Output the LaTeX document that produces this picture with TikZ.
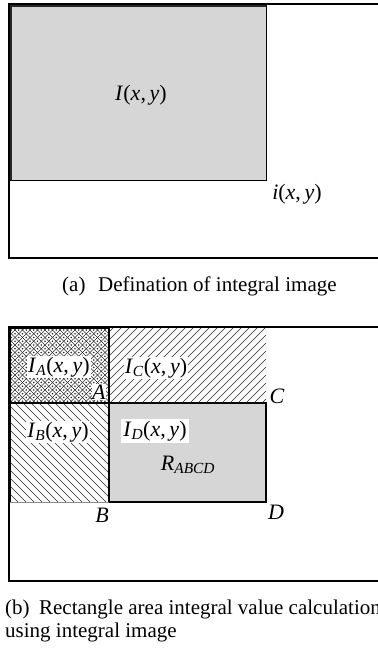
\documentclass[tikz,border=0pt]{standalone}
\usepackage{fontspec}
\setmainfont{Liberation Serif}
\newcommand\mv[1]{\textit{#1}}
\newcommand\mvs[2]{\textit{#1}\textsubscript{\textit{#2}}}
\newcommand\xy{(\mv{x},\,\mv{y})}
\definecolor{panelgray}{HTML}{D6D6D6}
\definecolor{hatchgray}{HTML}{2A2A2A}
\tikzset{
  lbl/.style={font=\fontsize{22bp}{26bp}\selectfont, inner sep=1bp},
  wlbl/.style={lbl, fill=white},
  capt/.style={font=\fontsize{21bp}{25bp}\selectfont, inner sep=0pt, anchor=base west},
  frame/.style={draw=black, line width=1.2bp},
  hatch/.style={draw=hatchgray, line width=0.6bp},
}
\begin{document}
\begin{tikzpicture}[x=1bp,y=-1bp]
\useasboundingbox (0,0) rectangle (377,648);
% ---------- panel (a)
\draw[frame] (9,4) rectangle (390,258);
\fill[panelgray] (10,5) rectangle (266,180);
\draw[line width=1bp] (266,5) -- (266,180) -- (10,180);
\draw[line width=2.2bp, draw=black!85] (11,180) -- (11,6) -- (266,6);
\node[lbl] (Ixy) at (141,95) {\mv{I}\xy};
\node[lbl] (ixy) at (297,194) {\mv{i}\xy};
\node[capt] (capa) at (62,291) {(a)\hspace{0.6em}Defination of integral image};
% ---------- panel (b)
\draw[frame] (9,327) rectangle (390,581);
% region C hatch (north east lines)
\begin{scope}
\clip (109,328) rectangle (266,403);
\foreach \c in {433,441,...,681} \draw[hatch] (\c-320,320) -- (\c-410,410);
\end{scope}
% region B hatch (north west lines)
\begin{scope}
\clip (10,403) rectangle (109,502);
\foreach \c in {-500,-492,...,-286} \draw[hatch] (\c+395,395) -- (\c+510,510);
\end{scope}
% region A crosshatch with dots
\begin{scope}
\clip (10,328) rectangle (109,403);
\foreach \i in {44,...,70} \draw[hatch] (7.5*\i-320,320) -- (7.5*\i-410,410);
\foreach \j in {-54,...,-28} \draw[hatch] (7.5*\j+320,320) -- (7.5*\j+410,410);
\foreach \i in {44,...,70}{
  \foreach \j in {-54,...,-28}{
    \fill[hatchgray] ({(7.5*\i+7.5*\j+7.5)/2},{(7.5*\i-7.5*\j)/2}) circle (0.8bp);
  }
}
\end{scope}
% region D gray
\fill[panelgray] (109,403) rectangle (266,502);
\draw[line width=1.2bp] (109,403) rectangle (266,502);
\draw[line width=1.2bp] (10,328) rectangle (109,403);
\draw[line width=1.2bp] (10,403) -- (109,403);
\draw[line width=1bp, draw=black!45] (10,502) -- (109,502);
\draw[line width=1.6bp] (10,327) -- (10,502);
% labels
\node[wlbl] (IA) at (59,367) {\mvs{I}{A}\xy};
\node[wlbl] (IC) at (156,368) {\mvs{I}{C}\xy};
\node[wlbl, inner sep=0.5bp] (A) at (99,392) {\mv{A}};
\node[lbl] (C) at (277,396) {\mv{C}};
\node[wlbl] (IB) at (58,432) {\mvs{I}{B}\xy};
\node[wlbl, inner sep=2bp] (ID) at (155,431) {\mvs{I}{D}\xy};
\node[lbl] (R) at (188,465) {\mvs{R}{ABCD}};
\node[lbl] (B) at (102,515) {\mv{B}};
\node[lbl] (D) at (276,512) {\mv{D}};
\node[capt] (capb1) at (5,614) {(b)\hspace{0.45em}Rectangle area integral value calculation};
\node[capt] (capb2) at (5,637) {using integral image};
\end{tikzpicture}
\end{document}
